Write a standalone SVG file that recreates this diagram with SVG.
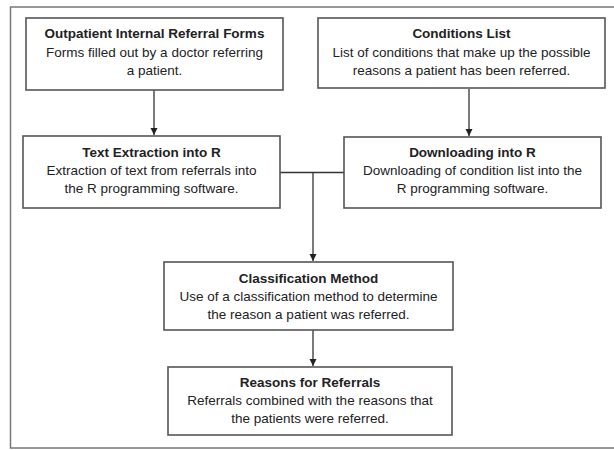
<svg xmlns="http://www.w3.org/2000/svg" width="614" height="450" viewBox="0 0 614 450">
<style>
.box{fill:#fff;stroke:#555;stroke-width:1.6}
.t{font-family:"Liberation Sans",Arial,sans-serif;font-size:13.5px;fill:#222;text-anchor:middle}
.b{font-weight:bold}
.c{fill:none;stroke:#333;stroke-width:1.3}
</style>
<defs>
<marker id="ah" markerWidth="8" markerHeight="8" refX="7" refY="4" orient="auto" markerUnits="userSpaceOnUse">
<path d="M0,0.5 L7,4 L0,7.5 Z" fill="#222"/>
</marker>
</defs>
<rect x="0" y="0" width="614" height="450" fill="#fff"/>
<rect x="10.5" y="7" width="612" height="441" fill="none" stroke="#777" stroke-width="1.5"/>
<g id="connectors">
<line class="c" x1="154" y1="90" x2="154" y2="135" marker-end="url(#ah)"/>
<line class="c" x1="469" y1="89" x2="469" y2="136" marker-end="url(#ah)"/>
<line class="c" x1="280" y1="172.5" x2="344" y2="172.5"/>
<line class="c" x1="313" y1="172.5" x2="313" y2="261" marker-end="url(#ah)"/>
<line class="c" x1="313" y1="330" x2="313" y2="366" marker-end="url(#ah)"/>
</g>
<g id="n1">
<rect class="box" x="26" y="18" width="257" height="72"/>
<text class="t b" x="154.5" y="38">Outpatient Internal Referral Forms</text>
<text class="t" x="154.5" y="57">Forms filled out by a doctor referring</text>
<text class="t" x="154.5" y="75">a patient.</text>
</g>
<g id="n2">
<rect class="box" x="318" y="18" width="287" height="70"/>
<text class="t b" x="461.5" y="38">Conditions List</text>
<text class="t" x="461.5" y="57">List of conditions that make up the possible</text>
<text class="t" x="461.5" y="75">reasons a patient has been referred.</text>
</g>
<g id="n3">
<rect class="box" x="23" y="136" width="257" height="72"/>
<text class="t b" x="151.5" y="157">Text Extraction into R</text>
<text class="t" x="151.5" y="175">Extraction of text from referrals into</text>
<text class="t" x="151.5" y="193">the R programming software.</text>
</g>
<g id="n4">
<rect class="box" x="344" y="137" width="257" height="71"/>
<text class="t b" x="472.5" y="157">Downloading into R</text>
<text class="t" x="472.5" y="175">Downloading of condition list into the</text>
<text class="t" x="472.5" y="193">R programming software.</text>
</g>
<g id="n5">
<rect class="box" x="164" y="262" width="289" height="68"/>
<text class="t b" x="308.5" y="283">Classification Method</text>
<text class="t" x="308.5" y="301">Use of a classification method to determine</text>
<text class="t" x="308.5" y="319">the reason a patient was referred.</text>
</g>
<g id="n6">
<rect class="box" x="168" y="367" width="284" height="68"/>
<text class="t b" x="310" y="387">Reasons for Referrals</text>
<text class="t" x="310" y="405">Referrals combined with the reasons that</text>
<text class="t" x="310" y="423">the patients were referred.</text>
</g>
</svg>
